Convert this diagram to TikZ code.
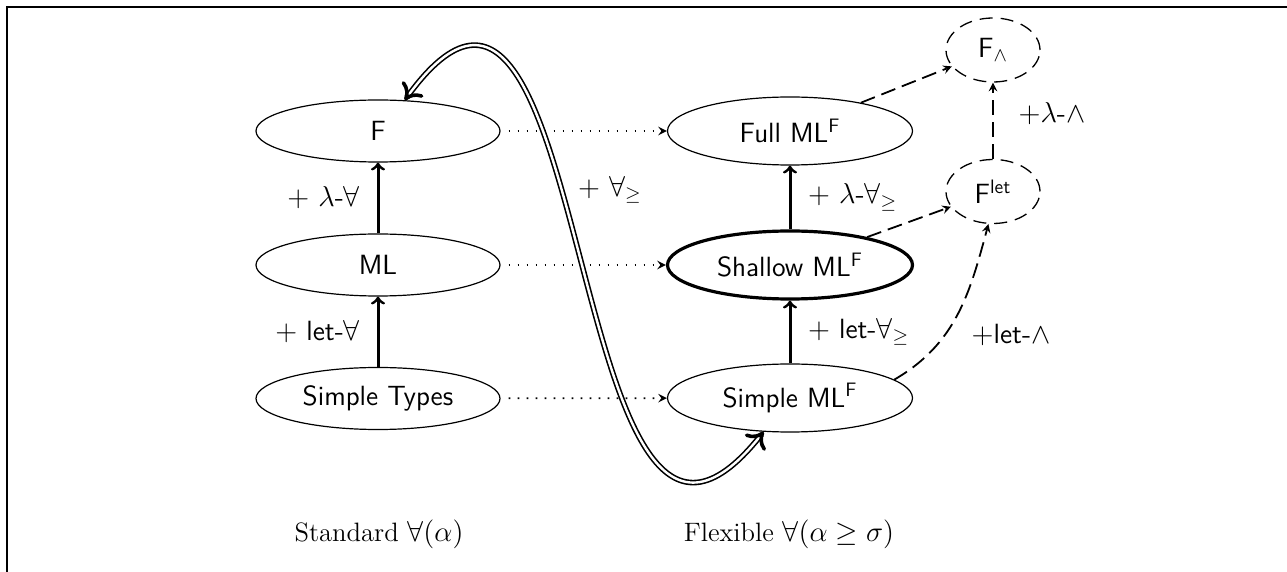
\documentclass[tikz,border=0pt]{standalone}
\usepackage{fontspec}
\usetikzlibrary{shapes.geometric,arrows,arrows.meta}
\newcommand\mysans{\fontsize{13.9}{16}\selectfont\sffamily}
\newcommand\myserif{\fontsize{13.3}{16}\selectfont\rmfamily}
\begin{document}
\begin{tikzpicture}[x=0.5pt,y=-0.5pt,>=to,font=\mysans,
  sys/.style={ellipse,draw,line width=0.6pt,inner sep=0pt},
  lsys/.style={sys,minimum width=122pt,minimum height=31pt},
  rsys/.style={sys,minimum width=122.5pt,minimum height=34pt},
  ext/.style={ellipse,draw,line width=0.65pt,dash pattern=on 6.5pt off 4pt,inner sep=0pt,minimum width=47pt,minimum height=32pt},
  solidarr/.style={->,line width=1.5pt},
  dotarr/.style={-stealth,line width=0.9pt,dash pattern=on 0.9pt off 3.6pt,shorten <=4pt},
  dasharr/.style={-stealth,line width=0.9pt,dash pattern=on 7.5pt off 3.5pt},
  dbltip/.tip={Computer Modern Rightarrow[length=7.5pt,width=13pt,line width=1.8pt]},
  dblarr/.style={dbltip-dbltip,double,line width=0.8pt,double distance=1.2pt}]
\useasboundingbox (0,0) rectangle (1287,572);
\draw[line width=1pt] (1287,7) -- (7,7) -- (7,572);
\node[lsys] (f) at (378,131) {F};
\node[lsys] (ml) at (378,265) {ML};
\node[lsys] (st) at (378,398.5) {Simple Types};
\node[rsys] (full) at (790,131) {Full ML$^{\mathsf{F}}$};
\node[rsys,line width=1.6pt] (shallow) at (790,265) {Shallow ML$^{\mathsf{F}}$};
\node[rsys] (sml) at (790,398) {Simple ML$^{\mathsf{F}}$};
\node[ext] (fand) at (993,50) {F$_\wedge$};
\node[ext] (flet) at (993,191.5) {F$^{\mathsf{let}}$};
\draw[solidarr] (ml) -- node[left=5pt] {$+$ $\lambda$-$\forall$} (f);
\draw[solidarr] (st) -- node[left=5pt] {$+$ let-$\forall$} (ml);
\draw[solidarr] (shallow) -- node[right=5pt] {$+$ $\lambda$-$\forall_\geq$} (full);
\draw[solidarr] (sml) -- node[right=5pt] {$+$ let-$\forall_\geq$} (shallow);
\draw[dotarr] (f) -- (full);
\draw[dotarr] (ml) -- (shallow);
\draw[dotarr] (st) -- (sml);
\draw[dasharr] (full) -- (fand);
\draw[dasharr] (shallow) -- (flet);
\draw[dasharr] (flet) -- node[pos=0.6,right=9pt] {$+\lambda$-$\wedge$} (fand);
\draw[dasharr] (sml.10) to[out=30,in=-105] (flet.262);
\node (letand) at (1011,335) {$+$let-$\wedge$};
\coordinate (c1) at (600,-170);
\coordinate (c2) at (560,690);
\draw[dblarr] (f.49) .. controls (c1) and (c2) .. (sml.232);
\node (allge) at (610,190) {$+$ $\forall_\geq$};
\node[font=\myserif] (std) at (379,534) {Standard $\forall(\alpha)$};
\node[font=\myserif] (flex) at (789,534) {Flexible $\forall(\alpha\geq\sigma)$};
\end{tikzpicture}
\end{document}
